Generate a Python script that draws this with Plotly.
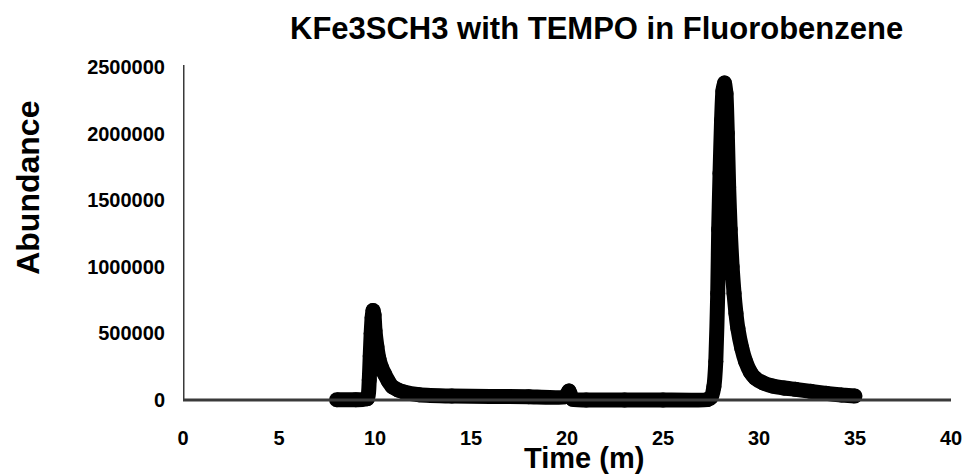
import plotly.graph_objects as go

# Data (time in minutes, abundance)
time_min = [8.0, 9.0, 9.6, 9.7, 9.75, 9.8, 9.85, 9.9, 9.95, 10.0, 10.1, 10.2, 10.35, 10.5, 10.7,
            10.9, 11.2, 11.5, 12.3, 14.0, 16.0, 18.0, 19.9,
            20.1, 20.3, 21.0, 23.0, 25.0, 27.3, 27.5, 27.65, 27.75, 27.85, 27.9, 27.97, 28.05,
            28.12, 28.2, 28.28, 28.35, 28.42, 28.5, 28.6, 28.7, 28.8, 28.9, 29.1, 29.3, 29.55,
            29.8, 30.2, 30.7, 31.3, 31.9, 32.7, 33.5, 34.3, 35.0]
abundance = [2000, 2000, 10000, 150000, 330000, 500000, 620000, 672000, 640000, 520000, 400000,
             313000, 240000, 194000, 140000,
             100000, 75000, 60000, 40000, 30000, 27000, 25000, 24000,
             67000, 5000, 0, 0, 0, 3000, 20000, 100000, 290000, 800000, 1280000, 1700000, 2100000,
             2320000, 2380000, 2300000, 2000000, 1600000, 1280000, 1000000, 800000, 650000, 537000,
             390000, 290000, 210000,
             165000, 130000, 105000, 90000, 80000, 65000, 50000, 38000, 30000]

x_ticks = [0, 5, 10, 15, 20, 25, 30, 35, 40]
y_ticks = [0, 500000, 1000000, 1500000, 2000000, 2500000]
y_tick_text = [str(v) for v in y_ticks]

title_text = "KFe3SCH3 with TEMPO in Fluorobenzene"
x_title = "Time (m)"
y_title = "Abundance"

FONT = "Liberation Sans, Arial, sans-serif"
AXIS_COLOR = "#3a3a3a"

fig = go.Figure()
fig.add_trace(go.Scatter(
    x=time_min, y=abundance, mode="lines+markers",
    line=dict(color="black", width=15, shape="spline", smoothing=0.5),
    marker=dict(color="black", size=15, line=dict(width=0)),
    cliponaxis=False, showlegend=False, hoverinfo="x+y",
))

fig.update_layout(
    width=966, height=466,
    margin=dict(l=175, r=15, t=57, b=64),
    paper_bgcolor="white", plot_bgcolor="white",
    font=dict(family=FONT, color="black"),
    xaxis=dict(range=[0, 40], tickvals=x_ticks, showgrid=False, zeroline=False,
               showline=False, ticks="", ticklabelstandoff=14,
               tickfont=dict(family=FONT, size=20, color="black", weight="bold")),
    yaxis=dict(range=[-75000, 2515000], tickvals=y_ticks, ticktext=y_tick_text,
               showgrid=False, zeroline=False, showline=False, ticks="",
               ticklabelstandoff=17,
               tickfont=dict(family=FONT, size=20, color="black", weight="bold")),
    shapes=[
        dict(type="line", xref="x", yref="y", x0=0, x1=40, y0=0, y1=0,
             line=dict(color=AXIS_COLOR, width=3), layer="above"),
        dict(type="line", xref="x", yref="y", x0=0, x1=0, y0=0, y1=2530000,
             line=dict(color=AXIS_COLOR, width=3), layer="above"),
    ],
    annotations=[
        dict(text=title_text, xref="paper", yref="paper", x=0.538, y=1.107,
             xanchor="center", yanchor="middle", showarrow=False,
             font=dict(family=FONT, size=31, color="black", weight="bold")),
        dict(text=x_title, xref="paper", yref="paper", x=0.522, y=-0.138,
             xanchor="center", yanchor="middle", showarrow=False,
             font=dict(family=FONT, size=29, color="black", weight="bold")),
        dict(text=y_title, xref="paper", yref="paper", x=-0.201, y=0.643,
             xanchor="center", yanchor="middle", showarrow=False, textangle=-90,
             font=dict(family=FONT, size=32, color="black", weight="bold")),
    ],
)

fig.write_html("out.html")
